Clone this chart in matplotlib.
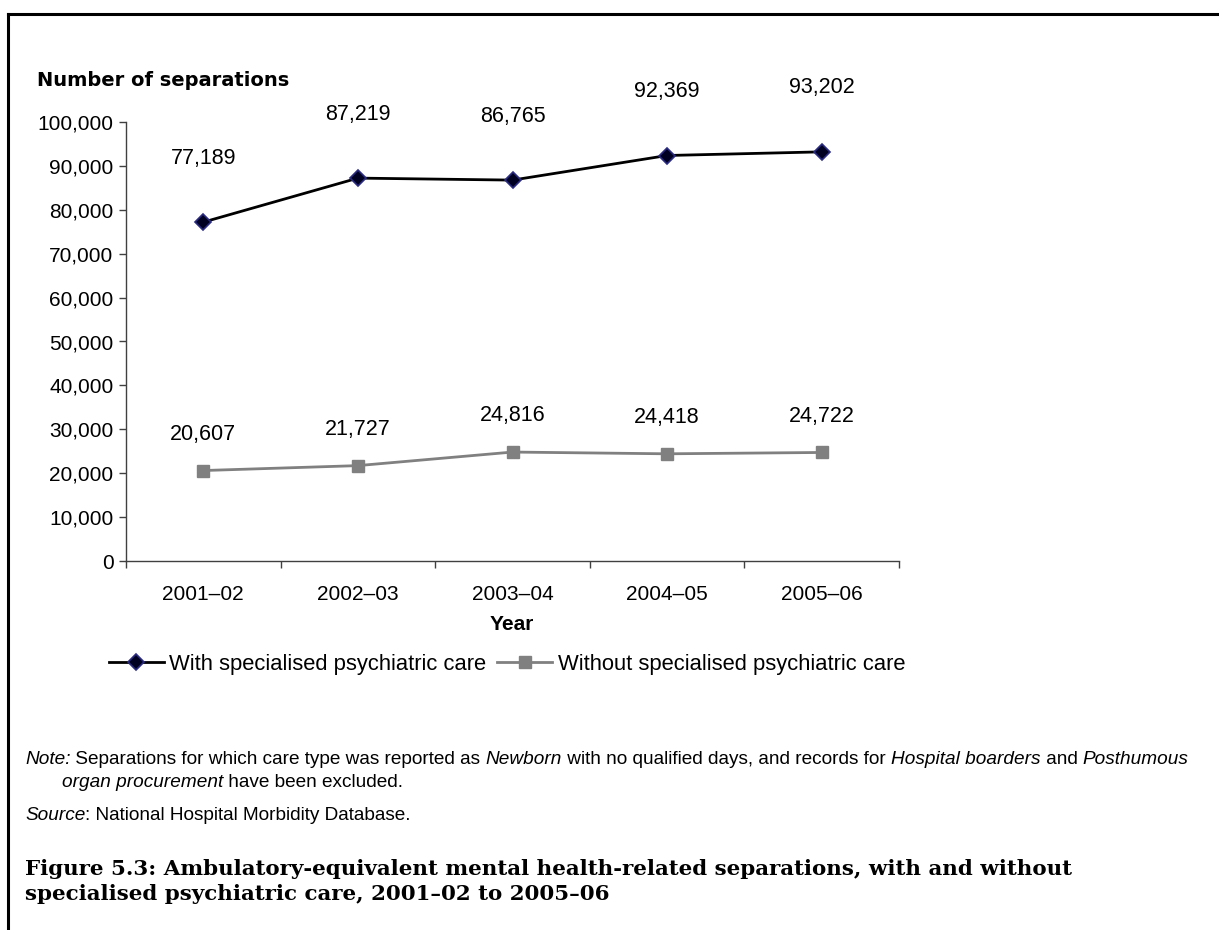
import matplotlib
matplotlib.use("Agg")
import matplotlib.pyplot as plt
from matplotlib.lines import Line2D
from matplotlib.ticker import FuncFormatter, FixedLocator

years = ["2001\u201302", "2002\u201303", "2003\u201304", "2004\u201305", "2005\u201306"]
with_care = [77189, 87219, 86765, 92369, 93202]
without_care = [20607, 21727, 24816, 24418, 24722]
series_names = ["With specialised psychiatric care", "Without specialised psychiatric care"]

W, H = 1219, 930
fig = plt.figure(figsize=(W / 100, H / 100), dpi=100)
plt.rcParams['font.family'] = ['Liberation Sans', 'DejaVu Sans']

def fx(px):
    return px / W

def fy(py):
    return 1 - py / H

ax = fig.add_axes([fx(126), fy(561), fx(899) - fx(126), fy(122) - fy(561)])
x = list(range(len(years)))

l1, = ax.plot(x, with_care, color="black", lw=2, marker="D", markersize=8,
              markerfacecolor="#000022", markeredgecolor="#2a2a80", markeredgewidth=1.2,
              label=series_names[0], zorder=3)
l2, = ax.plot(x, without_care, color="#808080", lw=2, marker="s", markersize=8,
              markerfacecolor="#808080", markeredgecolor="#808080",
              label=series_names[1], zorder=3)

for xi, v in zip(x, with_care):
    ax.annotate(f"{v:,}", (xi, v), xytext=(0, 46), textcoords="offset points",
                ha="center", va="center", fontsize=15.5)
for xi, v in zip(x, without_care):
    ax.annotate(f"{v:,}", (xi, v), xytext=(0, 26), textcoords="offset points",
                ha="center", va="center", fontsize=15.5)

ax.set_xlim(-0.5, len(years) - 0.5)
ax.set_ylim(0, 100000)
ax.set_yticks(range(0, 100001, 10000))
ax.yaxis.set_major_formatter(FuncFormatter(lambda v, p: f"{int(v):,}"))
ax.set_xticks(x)
ax.set_xticklabels(years)
ax.xaxis.set_minor_locator(FixedLocator([i - 0.5 for i in range(len(years) + 1)]))
ax.tick_params(axis="x", which="major", length=0, labelsize=15, pad=17)
ax.tick_params(axis="x", which="minor", length=5, width=1, color="#404040", direction="out")
ax.tick_params(axis="y", length=5, width=1, color="#404040", labelsize=15, pad=4)
for s in ["top", "right"]:
    ax.spines[s].set_visible(False)
for s in ["left", "bottom"]:
    ax.spines[s].set_color("#404040")
    ax.spines[s].set_linewidth(1)
ax.set_facecolor("white")

fig.text(fx(37), fy(80), "Number of separations", fontsize=14, fontweight="bold",
         family=["DejaVu Sans"], ha="left", va="center")
fig.text(fx(512), fy(625), "Year", fontsize=15, fontweight="bold", ha="center", va="center")

leg = fig.legend(handles=[l1, l2], loc="center", bbox_to_anchor=(fx(507), fy(664)),
                 ncol=2, frameon=False, fontsize=15.8, handlelength=2.5, handletextpad=0.25,
                 columnspacing=0.5, markerscale=1.0, borderpad=0, borderaxespad=0)

# Frame lines
fig.add_artist(Line2D([fx(8), fx(8)], [fy(14), 0], color="black", lw=2.2))
fig.add_artist(Line2D([fx(8), 1], [fy(14), fy(14)], color="black", lw=2.2))

# Notes with mixed italic, chained text pieces
def chain(pieces, x0, y0, size):
    t = fig.text(x0, y0, pieces[0][0], fontsize=size, style=pieces[0][1],
                 ha="left", va="baseline")
    for txt, st in pieces[1:]:
        t = fig.add_artist(matplotlib.text.Annotation(
            txt, xy=(1, 0), xycoords=t, fontsize=size, style=st,
            ha="left", va="bottom", annotation_clip=False))
    return t

note_size = 13.7
chain([("Note:", "italic"),
       (" Separations for which care type was reported as ", "normal"),
       ("Newborn", "italic"),
       (" with no qualified days, and records for ", "normal"),
       ("Hospital boarders", "italic"),
       (" and ", "normal"),
       ("Posthumous", "italic")], fx(25), fy(764), note_size)
chain([("organ procurement", "italic"),
       (" have been excluded.", "normal")], fx(62), fy(787), note_size)
chain([("Source", "italic"), (": National Hospital Morbidity Database.", "normal")],
      fx(25), fy(820), note_size)

cap_family = ["DejaVu Serif"]
fig.text(fx(25), fy(875), "Figure 5.3: Ambulatory-equivalent mental health-related separations, with and without",
         fontsize=15.4, fontweight="bold", family=cap_family, ha="left", va="baseline")
fig.text(fx(25), fy(900), "specialised psychiatric care, 2001\u201302 to 2005\u201306",
         fontsize=15.4, fontweight="bold", family=cap_family, ha="left", va="baseline")

fig.savefig("out.png", dpi=100, facecolor="white")
